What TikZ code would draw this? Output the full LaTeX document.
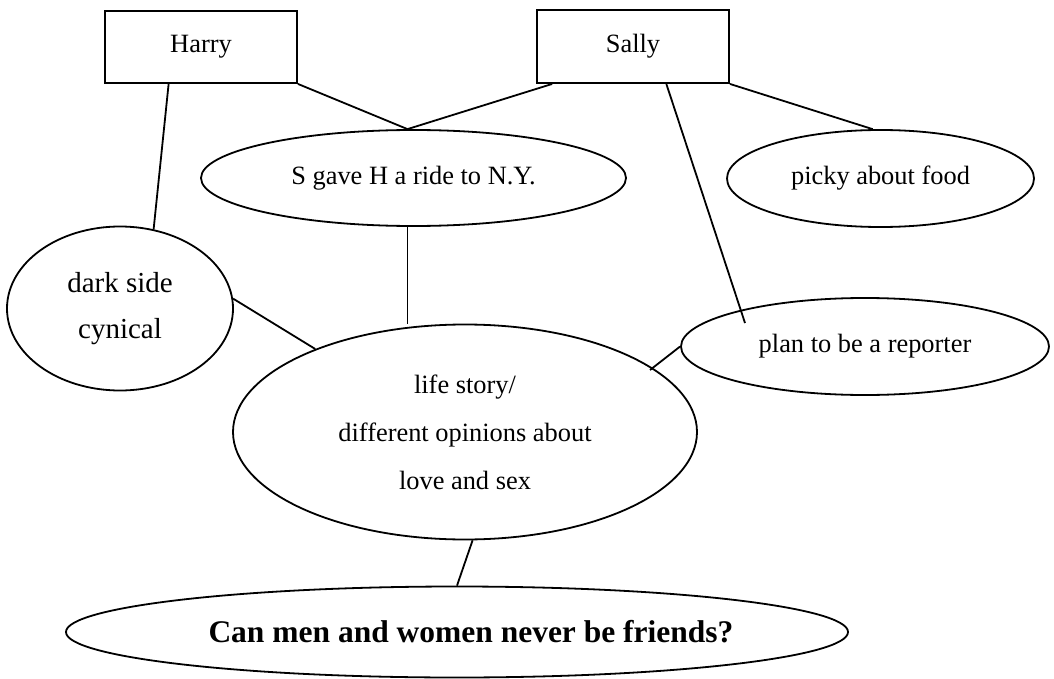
\documentclass[tikz,border=0pt]{standalone}
\usepackage{fontspec}
\setmainfont{Liberation Serif}
\usetikzlibrary{shapes.geometric,calc}
\begin{document}
\begin{tikzpicture}[x=1pt,y=-1pt,
  every node/.style={inner sep=0pt},
  box/.style={draw, line width=1.9pt, rectangle, minimum width=192pt, minimum height=72pt, font=\fontsize{26.4}{30}\selectfont},
  oval/.style={draw, line width=1.8pt, ellipse, align=center, font=\fontsize{26.4}{48}\selectfont},
  link/.style={line width=1.8pt}]
\useasboundingbox (0,0) rectangle (1054,679);
\fill[white] (0,0) rectangle (1054,679);
% boxes
\node[box] (harry) at (201,47) {Harry};
\node[box, minimum height=73pt] (sally) at (633,46.5) {Sally};
% ellipses
\node[oval, minimum width=425pt, minimum height=96pt] (sgave) at (413.5,178) {S gave H a ride to N.Y.};
\node[oval, minimum width=307pt, minimum height=97pt] (picky) at (880.5,178.5) {picky about food};
\node[oval, minimum width=226pt, minimum height=164pt, font=\fontsize{29}{46}\selectfont] (dark) at (120,308.5) {dark side\\cynical};
\node[oval, minimum width=368pt, minimum height=97pt] (plan) at (865,346.5) {plan to be a reporter};
\node[oval, minimum width=464pt, minimum height=215pt] (life) at (465,432) {life story/\\different opinions about\\love and sex};
\node[oval, minimum width=768pt, minimum height=91pt, font=\fontsize{31.5}{36}\selectfont\bfseries] (q) at (457,632) {\hspace*{28pt}Can men and women never be friends?};
% free ends
\coordinate (pin) at (745,323);
\coordinate (lin) at (650,370);
% connectors
\draw[link] ($(harry.south west)!0.333!(harry.south east)$) -- (dark.67);
\draw[link] (harry.south east) -- (sgave.97);
\draw[link] ($(sally.south west)!0.083!(sally.south east)$) -- (sgave.97);
\draw[link] ($(sally.south west)!0.672!(sally.south east)$) -- (pin);
\draw[link] (sally.south east) -- (picky.99);
\draw[link] (sgave.263) -- (sgave.263 |- life.north);
\draw[link] (dark.5) -- (life.151);
\draw[link] (plan.west) -- (lin);
\draw[link] (life.274) -- (q.north);
\end{tikzpicture}
\end{document}
